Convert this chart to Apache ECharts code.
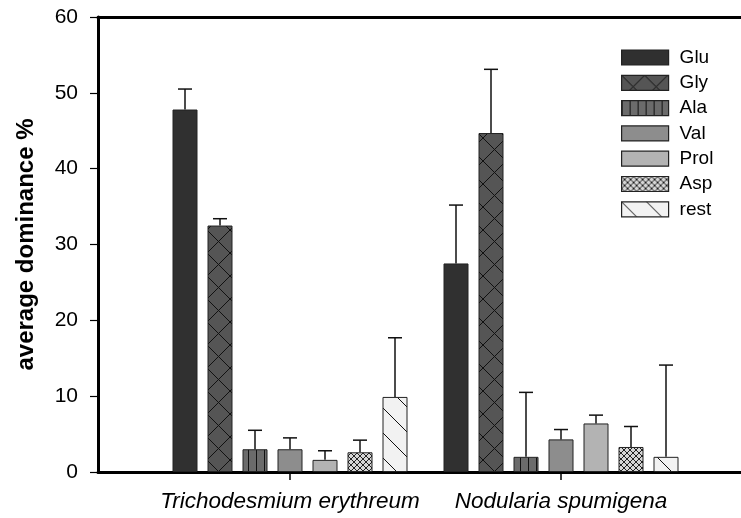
<!DOCTYPE html>
<html><head><meta charset="utf-8">
<script src="https://cdn.jsdelivr.net/npm/echarts@6/dist/echarts.min.js"></script>
<style>html,body{margin:0;padding:0;background:#fff}#c{width:741px;height:518px}</style>
</head><body><div id="c"></div>
<script>
var categories = ['Trichodesmium erythreum', 'Nodularia spumigena'];
var seriesNames = ['Glu', 'Gly', 'Ala', 'Val', 'Prol', 'Asp', 'rest'];
var glu  = [47.8, 27.5];
var gly  = [32.5, 44.7];
var ala  = [3.0, 2.0];
var val  = [3.0, 4.3];
var prol = [1.6, 6.4];
var asp  = [2.6, 3.3];
var rest = [9.9, 2.0];
var gluErr  = [2.7, 7.7];
var glyErr  = [0.9, 8.4];
var alaErr  = [2.5, 8.5];
var valErr  = [1.5, 1.3];
var prolErr = [1.2, 1.1];
var aspErr  = [1.6, 2.7];
var restErr = [7.8, 12.1];
var yTicks = [0, 10, 20, 30, 40, 50, 60];

var values = [glu, gly, ala, val, prol, asp, rest];
var errs = [gluErr, glyErr, alaErr, valErr, prolErr, aspErr, restErr];

function tile(w, h, bg, draw) {
  var c = document.createElement('canvas');
  c.width = w; c.height = h;
  var g = c.getContext('2d');
  g.fillStyle = bg; g.fillRect(0, 0, w, h);
  g.strokeStyle = '#111'; g.lineWidth = 1;
  if (draw) draw(g, w, h);
  return { image: c, repeat: 'repeat' };
}
var fills = [
  '#303030',
  tile(23, 23, '#555555', function (g, w, h) {
    g.beginPath(); g.moveTo(0, 0); g.lineTo(w, h); g.moveTo(w, 0); g.lineTo(0, h); g.stroke();
  }),
  tile(8, 4, '#6b6b6b', function (g, w, h) {
    g.fillStyle = '#111'; g.fillRect(0, 0, 1, h);
  }),
  '#8d8d8d',
  '#b3b3b3',
  tile(6, 6, '#d6d6d6', function (g, w, h) {
    g.strokeStyle = '#222';
    g.beginPath(); g.moveTo(0, 0); g.lineTo(w, h); g.moveTo(w, 0); g.lineTo(0, h); g.stroke();
  }),
  tile(25, 25, '#f2f2f2', function (g, w, h) {
    g.beginPath(); g.moveTo(0, 0); g.lineTo(w, h); g.stroke();
  })
];

var BAR_W = 25, BAR_GAP = 10;
var font = 'Liberation Sans, Arial, sans-serif';

var series = seriesNames.map(function (name, i) {
  return {
    name: name, type: 'bar', xAxisIndex: 2, yAxisIndex: 1,
    barWidth: BAR_W, barGap: (BAR_GAP / BAR_W * 100) + '%',
    data: values[i],
    itemStyle: { color: fills[i], borderColor: '#222', borderWidth: 1 },
    emphasis: { disabled: true },
    z: 2
  };
});

var errData = [];
seriesNames.forEach(function (n, i) {
  categories.forEach(function (c, j) {
    errData.push([j, values[i][j], values[i][j] + errs[i][j], i]);
  });
});
series.push({
  type: 'custom', xAxisIndex: 2, yAxisIndex: 1, z: 5,
  data: errData,
  renderItem: function (params, api) {
    var idx = api.value(3);
    var off = (idx - (seriesNames.length - 1) / 2) * (BAR_W + BAR_GAP);
    var p0 = api.coord([api.value(0), api.value(1)]);
    var p1 = api.coord([api.value(0), api.value(2)]);
    var x = p0[0] + off;
    var st = { stroke: '#111', lineWidth: 1.5 };
    return { type: 'group', children: [
      { type: 'line', shape: { x1: x, y1: p0[1], x2: x, y2: p1[1] }, style: st },
      { type: 'line', shape: { x1: x - 7, y1: p1[1], x2: x + 7, y2: p1[1] }, style: st }
    ]};
  }
});

var chart = echarts.init(document.getElementById('c'), null, { renderer: 'canvas' });
chart.setOption({
  animation: false,
  backgroundColor: '#fff',
  legend: {
    orient: 'vertical', left: 616, top: 43,
    icon: 'rect',
    itemWidth: 47, itemHeight: 15, itemGap: 6.3,
    data: seriesNames,
    textStyle: { fontFamily: font, fontSize: 19, lineHeight: 15, color: '#000', padding: [0, 0, 0, 6] },
    itemStyle: { borderColor: '#222', borderWidth: 1.2 },
    selectedMode: false
  },
  grid: [
    { left: 98, top: 17, bottom: 46, right: -20 },
    { left: 154.5, width: 542, top: 17, bottom: 46 }
  ],
  xAxis: [
    { type: 'value', gridIndex: 0, min: 0, max: 1, position: 'bottom',
      axisLine: { lineStyle: { color: '#000', width: 3 } },
      axisTick: { show: false }, axisLabel: { show: false }, splitLine: { show: false } },
    { type: 'value', gridIndex: 0, min: 0, max: 1, position: 'top',
      axisLine: { lineStyle: { color: '#000', width: 3 } },
      axisTick: { show: false }, axisLabel: { show: false }, splitLine: { show: false } },
    { type: 'category', gridIndex: 1, data: categories,
      axisLine: { show: false },
      axisTick: { show: true, interval: 0, alignWithLabel: true, length: 8, lineStyle: { color: '#000', width: 1.5 } },
      axisLabel: { interval: 0, fontFamily: font, fontSize: 22.5, fontStyle: 'italic', color: '#000', margin: 18 } }
  ],
  yAxis: [
    { type: 'value', gridIndex: 0, min: 0, max: 60, interval: 10,
      name: 'average dominance %', nameLocation: 'middle', nameGap: 60,
      nameTextStyle: { fontFamily: font, fontSize: 24, fontWeight: 'bold', color: '#000' },
      axisLine: { show: true, lineStyle: { color: '#000', width: 3 } },
      axisTick: { show: true, length: 8, lineStyle: { color: '#000', width: 1.2 } },
      axisLabel: { fontFamily: font, fontSize: 21, color: '#000', margin: 20 },
      splitLine: { show: false } },
    { type: 'value', gridIndex: 1, min: 0, max: 60, interval: 10, show: false }
  ],
  series: series
});
</script>
</body></html>
